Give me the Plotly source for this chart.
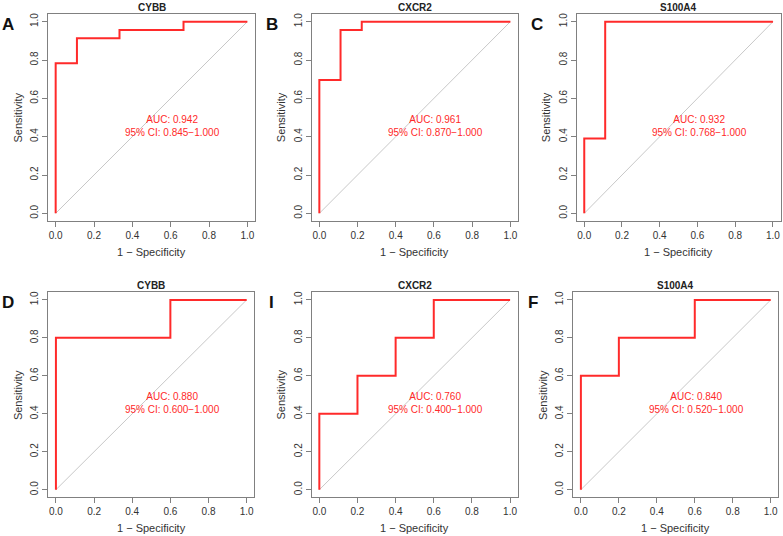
import plotly.graph_objects as go

W, H = 783, 536

genes = ["CYBB", "CXCR2", "S100A4", "CYBB", "CXCR2", "S100A4"]
letters = ["A", "B", "C", "D", "I", "F"]
fpr_a = [0, 0, 0.111, 0.333, 0.667, 1]
tpr_a = [0, 0.783, 0.913, 0.957, 1, 1]
fpr_b = [0, 0, 0.111, 0.222, 1]
tpr_b = [0, 0.696, 0.957, 1, 1]
fpr_c = [0, 0, 0.111, 1]
tpr_c = [0, 0.391, 1, 1]
fpr_d = [0, 0, 0.6, 1]
tpr_d = [0, 0.8, 1, 1]
fpr_e = [0, 0, 0.2, 0.4, 0.6, 1]
tpr_e = [0, 0.4, 0.6, 0.8, 1, 1]
fpr_f = [0, 0, 0.2, 0.6, 1]
tpr_f = [0, 0.6, 0.8, 1, 1]
auc_vals = ["0.942", "0.961", "0.932", "0.880", "0.760", "0.840"]
ci_vals = ["0.845\u22121.000", "0.870\u22121.000", "0.768\u22121.000",
           "0.600\u22121.000", "0.400\u22121.000", "0.520\u22121.000"]
ticks = [0, 0.2, 0.4, 0.6, 0.8, 1.0]
tick_text = ["0.0", "0.2", "0.4", "0.6", "0.8", "1.0"]

fprs = [fpr_a, fpr_b, fpr_c, fpr_d, fpr_e, fpr_f]
tprs = [tpr_a, tpr_b, tpr_c, tpr_d, tpr_e, tpr_f]

# panel boxes in pixels (left, right, top, bottom)
boxes = [
    (48, 255, 14, 221), (311.7, 518, 14, 221), (576.7, 780.5, 14, 221),
    (48.3, 254.3, 292.3, 497.3), (311.7, 517.7, 292.3, 497.3), (573.3, 778.3, 292.3, 497.3),
]

FONT = "Liberation Sans, Arial, sans-serif"
fig = go.Figure()
layout = dict(width=W, height=H, margin=dict(l=0, r=0, t=0, b=0),
              paper_bgcolor="white", plot_bgcolor="white", showlegend=False)
annotations = []


def ann(x, y, text, size, color, angle=0, xref="paper", yref="paper"):
    return dict(xref=xref, yref=yref, x=x, y=y, text=text, showarrow=False,
                xanchor="center", yanchor="middle", textangle=angle, align="center",
                font=dict(family=FONT, size=size, color=color))


for i in range(6):
    l, r, t, b = boxes[i]
    xa = "x" if i == 0 else f"x{i+1}"
    ya = "y" if i == 0 else f"y{i+1}"
    xk = "xaxis" if i == 0 else f"xaxis{i+1}"
    yk = "yaxis" if i == 0 else f"yaxis{i+1}"
    fig.add_trace(go.Scatter(x=[0, 1], y=[0, 1], mode="lines",
                             line=dict(color="#c8c8c8", width=1),
                             xaxis=xa, yaxis=ya, hoverinfo="skip"))
    fig.add_trace(go.Scatter(x=fprs[i], y=tprs[i], mode="lines", line_shape="hv",
                             line=dict(color="#ff2a2a", width=2),
                             xaxis=xa, yaxis=ya))
    common = dict(range=[-0.04, 1.04], showgrid=False, zeroline=False,
                  showline=True, mirror=True, linecolor="#808080", linewidth=1,
                  ticks="outside", ticklen=5, tickcolor="#808080",
                  tickvals=ticks, ticktext=tick_text,
                  tickfont=dict(family=FONT, size=10, color="#333333"))
    layout[xk] = dict(domain=[l / W, r / W], anchor=ya, **common)
    layout[yk] = dict(domain=[1 - b / H, 1 - t / H], anchor=xa, tickangle=-90, **common)
    cx = (l + r) / 2
    annotations.append(ann(cx / W, 1 - (t - 7) / H, f"<b>{genes[i]}</b>", 10, "#222222"))
    annotations.append(ann(cx / W, 1 - (b + 31) / H, "1 \u2212 Specificity", 11, "#333333"))
    annotations.append(ann((l - 31) / W, 1 - ((t + b) / 2) / H, "Sensitivity", 11, "#333333", angle=-90))
    annotations.append(ann((l - 40) / W, 1 - (t + 10) / H, f"<b>{letters[i]}</b>", 17, "#111111"))
    annotations.append(ann(0.61, 0.455, f"AUC: {auc_vals[i]}<br>95% CI: {ci_vals[i]}",
                           10, "#ff2a2a", xref=xa, yref=ya))
layout["annotations"] = annotations
fig.update_layout(**layout)
fig.write_html("out.html", config={"displayModeBar": False},
               post_script="document.body.style.margin='0';")
